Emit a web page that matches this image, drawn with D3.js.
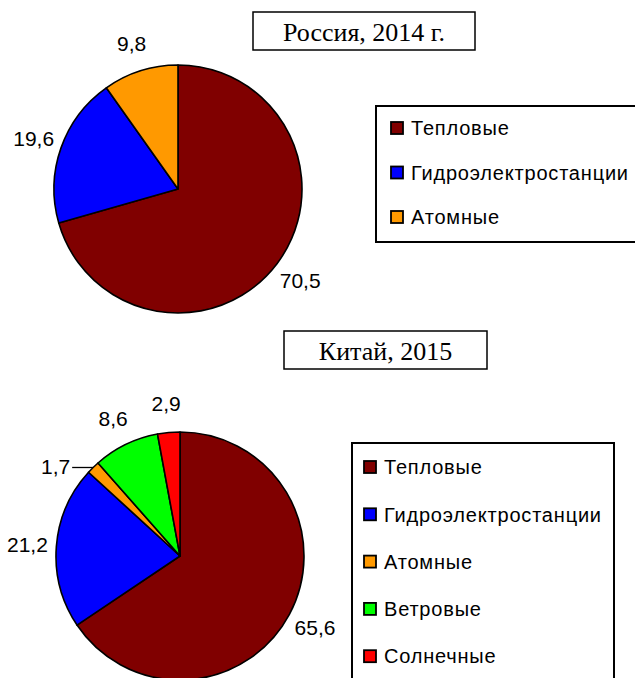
<!DOCTYPE html>
<html>
<head>
<meta charset="utf-8">
<style>
    body { margin: 0; background: #fff; }
    svg { display: block; }
</style>
</head>
<body>
<svg id="container" width="635" height="678"></svg>

<script src="https://d3js.org/d3.v7.min.js"></script>
<script>
    // Data
    const titleRussia = "Россия, 2014 г."
    const categoriesRussia = ["Тепловые", "Гидроэлектростанции", "Атомные"]
    const valuesRussia = [70.5, 19.6, 9.8]

    const titleChina = "Китай, 2015"
    const categoriesChina = ["Тепловые", "Гидроэлектростанции", "Атомные", "Ветровые", "Солнечные"]
    const valuesChina = [65.6, 21.2, 1.7, 8.6, 2.9]

    const colors = ["#800000", "#0000ff", "#ff9900", "#00ff00", "#ff0000"]

    let svg = d3.select("#container")
    let fmt = d3.formatLocale({decimal: ",", thousands: " ", grouping: [3], currency: ["", ""]}).format(".1f")

    let radius = 124

    drawChart({
        title: titleRussia, categories: categoriesRussia, values: valuesRussia,
        cx: 178, cy: 189,
        titleBox: [253, 12, 222, 38],
        legend: {x: 376, y: 106, w: 280, h: 136, firstRow: 22, rowStep: 44.5, pad: 14}
    })

    drawChart({
        title: titleChina, categories: categoriesChina, values: valuesChina,
        cx: 180, cy: 556,
        titleBox: [284, 331, 203, 38],
        legend: {x: 352, y: 443, w: 262, h: 260, firstRow: 24, rowStep: 47.3, pad: 11}
    })

    function drawChart(cfg) {
        let color = d3.scaleOrdinal().domain(cfg.categories).range(colors)
        let data = cfg.categories.map((c, i) => ({name: c, value: cfg.values[i]}))

        // Pie starts at 12 o'clock and goes clockwise, in data order
        let pie = d3.pie().sort(null).value(d => d.value)
        let arcs = pie(data)
        let arc = d3.arc().innerRadius(0).outerRadius(radius)
        let labelArc = d3.arc().innerRadius(153).outerRadius(153)
        let edgeArc = d3.arc().innerRadius(radius).outerRadius(radius)

        let g = svg.append("g").attr("transform", `translate(${cfg.cx},${cfg.cy})`)

        g.selectAll("path")
            .data(arcs)
            .enter()
            .append("path")
                .attr("d", arc)
                .attr("fill", d => color(d.data.name))
                .attr("stroke", "black")
                .attr("stroke-width", 1.6)
                .attr("stroke-linejoin", "round")

        // Value labels outside the slices; tiny slices get a short leader line
        arcs.forEach(d => {
            let txt = g.append("text")
                .attr("font-family", "Arial, 'Liberation Sans', sans-serif")
                .attr("font-size", 21)
                .attr("fill", "black")
                .attr("dy", "0.35em")
                .text(fmt(d.data.value))
            if (d.data.value < 2) {
                let [px, py] = edgeArc.centroid(d)
                let dir = px < 0 ? -1 : 1
                g.append("line")
                    .attr("x1", px).attr("y1", py)
                    .attr("x2", px + dir * 21).attr("y2", py)
                    .attr("stroke", "black")
                    .attr("stroke-width", 1.3)
                txt.attr("x", px + dir * 23).attr("y", py - 1)
                    .attr("text-anchor", dir < 0 ? "end" : "start")
            } else {
                let [lx, ly] = labelArc.centroid(d)
                txt.attr("x", lx).attr("y", ly).attr("text-anchor", "middle")
            }
        })

        // Title box
        let [bx, by, bw, bh] = cfg.titleBox
        svg.append("rect")
            .attr("x", bx).attr("y", by).attr("width", bw).attr("height", bh)
            .attr("fill", "white").attr("stroke", "black").attr("stroke-width", 1.5)
        svg.append("text")
            .attr("x", bx + bw / 2).attr("y", by + 29)
            .attr("text-anchor", "middle")
            .attr("font-family", "'Times New Roman', 'Liberation Serif', serif")
            .attr("font-size", 26)
            .text(cfg.title)

        // Legend
        let L = cfg.legend
        let rowY = d3.scaleLinear().domain([0, 1]).range([L.y + L.firstRow, L.y + L.firstRow + L.rowStep])
        let lg = svg.append("g")
        lg.append("rect")
            .attr("x", L.x).attr("y", L.y).attr("width", L.w).attr("height", L.h)
            .attr("fill", "white").attr("stroke", "black").attr("stroke-width", 2)
        let items = lg.selectAll("g.item")
            .data(cfg.categories)
            .enter()
            .append("g")
            .attr("class", "item")
            .attr("transform", (d, i) => `translate(${L.x + L.pad},${rowY(i)})`)
        items.append("rect")
            .attr("x", 1).attr("y", -6).attr("width", 12).attr("height", 12)
            .attr("fill", d => color(d))
            .attr("stroke", "black").attr("stroke-width", 1.8)
        items.append("text")
            .attr("x", 21).attr("dy", "0.36em")
            .attr("font-family", "Arial, 'Liberation Sans', sans-serif")
            .attr("font-size", 20)
            .attr("letter-spacing", 0.8)
            .text(d => d)
    }
</script>
</body>
</html>
